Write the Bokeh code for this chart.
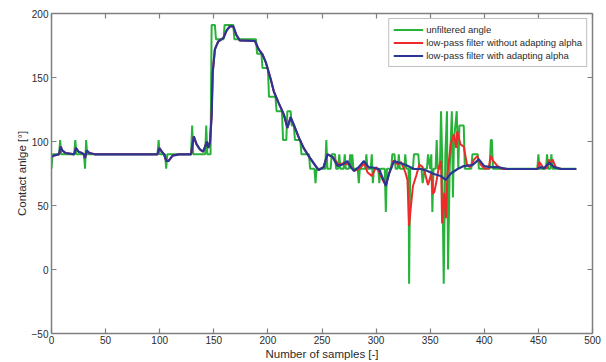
from bokeh.plotting import figure
from bokeh.models import LinearAxis, FixedTicker, Range1d, CustomLabelingPolicy
from bokeh.embed import file_html
from bokeh.resources import INLINE

# ---------------- data ----------------
x_ticks = [0, 50, 100, 150, 200, 250, 300, 350, 400, 450, 500]
y_ticks = [-50, 0, 50, 100, 150, 200]

series_names = ["unfiltered angle",
                "low-pass filter without adapting alpha",
                "low-pass filter with adapting alpha"]

# unfiltered angle (green) - vertices of the sampled signal
green_x = [0, 1, 7, 8, 9, 21, 22, 23, 30, 31, 32, 33, 98, 99, 100, 105, 106, 107,
           129, 130, 131, 142, 143, 144, 147, 148, 151, 152, 159, 160, 168, 169,
           189, 190, 194, 195, 200, 201, 207, 208, 213, 214, 217, 218, 221, 222,
           224, 225, 230, 231, 238, 239, 243, 244, 245, 253, 254, 255, 258, 259,
           262, 263, 265, 266, 267, 270, 271, 272, 275, 276, 277, 278, 279, 283,
           284, 285, 290, 291, 292, 295, 296, 297, 298, 302, 303, 304, 308, 309,
           310, 314, 315, 317, 318, 320, 321, 322, 326, 327, 328, 330, 330.5,
           331.5, 334, 335, 339, 340, 342, 343, 345, 347, 348, 350, 351, 352, 353,
           355, 356, 357, 359, 360, 361, 362.5, 364, 365.5, 366.5, 368, 370, 371,
           372, 374.5, 376, 377, 381, 382, 388, 389, 394, 395, 405, 406, 407,
           408, 449, 450, 451, 457, 458, 459, 461, 462, 463, 485]
green_y = [78.7, 90, 90, 101.2, 90, 90, 101.2, 90, 90, 78.7, 101.2, 90, 90, 101.2,
           90, 90, 78.7, 90,
           90, 112.5, 90, 90, 112.5, 90, 90, 191.1, 191.1, 179.9, 179.9, 191.1,
           191.1, 179.9,
           179.9, 168.6, 168.6, 157.4, 157.4, 134.9, 134.9, 123.7, 123.7, 101.2,
           101.2, 123.7, 123.7, 112.5,
           112.5, 101.2, 101.2, 90, 90, 78.7, 78.7, 67.5, 78.7, 78.7, 101.2, 78.7,
           78.7, 90,
           90, 78.7, 78.7, 90, 78.7, 78.7, 90, 78.7, 78.7, 90, 78.7, 90, 78.7, 78.7,
           67.5, 78.7, 78.7, 90, 78.7, 78.7, 90, 67.5, 78.7, 78.7, 67.5, 78.7,
           78.7, 45,
           78.7, 78.7, 90, 90, 78.7, 78.7, 90, 78.7, 78.7, 90, 78.7, 78.7, -11.2,
           78.7, 78.7, 90, 90, 78.7, 78.7, 67.5, 78.7, 78.7, 90, 78.7, 90, 45,
           78.7,
           78.7, 101.2, 78.7, 78.7, 123.7, 90, -11.2, 90, 123.7, 0, 78.7, 123.7,
           56.2,
           101.2, 123.7, 78.7, 112.5, 112.5, 78.7, 78.7, 90, 90, 78.7, 78.7,
           101.2, 101.2,
           78.7, 78.7, 90, 78.7, 78.7, 90, 78.7, 78.7, 90, 78.7, 78.7]

# low-pass filter with adapting alpha (blue)
blue_x = [0, 2, 7, 8.5, 10, 13, 21, 22.5, 25, 28, 30, 31, 32.5, 35, 40, 98, 99.5,
          102, 104, 106, 108, 112, 118, 129, 130, 131.5, 134, 137, 140, 142, 143.5,
          145, 146.5, 148, 149, 151, 154, 159, 162, 165, 168, 171, 174, 188, 191.5,
          195, 198, 202.5, 205.5, 210, 214.8, 218, 221, 224, 228.6, 233, 237.7,
          242, 246.8, 251.5, 255, 259.7, 264.3, 268.9, 273.5, 276.6, 279.6, 284,
          288.7, 293, 298, 302.6, 306, 309, 312, 316.5, 322.9, 329, 335, 341.4,
          347.5, 353.4, 359.8, 364.5, 369, 375.3, 381, 389, 395, 400, 406, 412,
          421.5, 449, 452, 455, 460, 464.5, 471, 485]
blue_y = [88, 89, 90, 96, 93, 91, 90, 95, 92, 91, 90, 87, 93, 91, 90, 90, 95,
          92, 90, 85, 84.7, 89, 90, 90, 96, 104, 98, 94, 92, 96, 100,
          95, 100, 120, 154, 172, 178, 181, 187, 190, 190, 183, 179, 178.5, 172,
          168, 162, 149, 139, 130, 121, 110.6, 119, 113, 103, 95, 88.6,
          83.4, 77.7, 80, 90, 88, 81, 82, 84.7, 80, 77, 80,
          84.7, 80, 79.5, 78.5, 71.7, 65.3, 75, 84.7, 83, 81, 78.5, 78.5,
          77, 74.6, 73, 70, 75, 78.5, 80.8, 81.5, 86, 80.8, 80, 80,
          78.5, 78.5, 80, 79, 83.4, 80, 78.5, 78.5]

# low-pass filter without adapting alpha (red)
red_x = [0, 2, 7, 8.5, 10, 13, 21, 22.5, 25, 28, 30, 31, 32.5, 35, 40, 98, 99.5,
         102, 104, 106, 108, 112, 118, 129, 130, 131.5, 134, 137, 140, 142, 143.5,
         145, 146.5, 148, 149, 151, 154, 159, 162, 165, 168, 171, 174, 188, 191.5,
         195, 198, 202.5, 205.5, 210, 214.8, 218, 221, 224, 228.6, 233, 237.7,
         242, 246.8, 251.5, 255, 259.7, 262, 265, 270, 275, 280, 285, 289, 292,
         296, 300, 303, 306, 309, 312, 316, 320, 323, 327, 329, 330.5, 332, 334,
         337, 340, 343, 345, 348, 351, 352.5, 354, 356, 358, 360, 361, 363,
         364.5, 366, 369, 372, 374, 375, 378, 381, 384, 387, 390.6, 393.5, 396.6,
         400, 404, 406, 408, 412, 416.5, 449, 451, 454, 458, 459.5, 461, 463,
         466, 471, 485]
red_y = [88, 89, 90, 96, 93, 91, 90, 95, 92, 91, 90, 87, 93, 91, 90, 90, 95,
         92, 90, 85, 84.7, 89, 90, 90, 96, 104, 98, 94, 92, 96, 100,
         95, 100, 120, 154, 172, 178, 181, 187, 190, 190, 183, 179, 178.5, 172,
         168, 162, 149, 139, 130, 121, 110.6, 119, 113, 103, 95, 88.6,
         83.4, 77.7, 80, 90, 88, 86, 82, 83, 82, 77, 79, 83, 76,
         73, 80, 76, 70, 66, 75, 85, 82, 84, 76, 70, 34, 48, 65,
         73, 82, 80, 76, 66, 75, 59, 61, 70, 80, 85, 36, 60,
         40, 75, 98, 105.6, 95, 108, 97.7, 96, 82, 80, 86, 88.6, 82,
         79, 79, 89, 85, 81, 78.5, 78.5, 84, 80, 79, 86, 82, 86,
         80, 78.5, 78.5]

# ---------------- styling ----------------
GREEN = "#27b23a"
RED = "#ee2a2a"
BLUE = "#2b3593"
AXIS = "#7f7f7f"
TEXT = "#2b2b2b"
FONT = "Liberation Sans"

p = figure(width=606, height=362,
           x_range=Range1d(0, 500), y_range=Range1d(-50, 200),
           output_backend="svg", toolbar_location=None,
           min_border_left=51, min_border_right=14, min_border_top=13,
           min_border_bottom=28,
           x_axis_label="Number of samples [-]",
           y_axis_label="Contact anlge [°]")

p.xgrid.visible = False
p.ygrid.visible = False
p.outline_line_color = AXIS
p.background_fill_color = "white"
p.border_fill_color = "white"

p.line(green_x, green_y, color=GREEN, line_width=2, legend_label=series_names[0])
p.line(red_x, red_y, color=RED, line_width=2, legend_label=series_names[1])
p.line(blue_x, blue_y, color=BLUE, line_width=2.2, legend_label=series_names[2])

def style_axis(ax, ticks, labels=True):
    ax.ticker = FixedTicker(ticks=ticks)
    ax.axis_line_color = AXIS
    ax.axis_line_width = 1.5
    ax.major_tick_line_color = AXIS
    ax.major_tick_line_width = 1.2
    ax.major_tick_in = 5
    ax.major_tick_out = 0
    ax.minor_tick_line_color = None
    if labels:
        ax.major_label_text_font = FONT
        ax.major_label_text_font_size = "10px"
        ax.major_label_text_color = TEXT
        ax.axis_label_text_font = FONT
        ax.axis_label_text_font_size = "11.5px"
        ax.axis_label_text_font_style = "normal"
        ax.axis_label_text_color = TEXT
    else:
        # tick marks only, no tick labels (box axes as in the reference)
        ax.major_label_policy = CustomLabelingPolicy(code="return []")
        ax.major_label_text_font_size = "1px"
        ax.major_label_standoff = 0

style_axis(p.xaxis[0], x_ticks)
style_axis(p.yaxis[0], y_ticks)
p.xaxis[0].major_label_standoff = 2
p.xaxis[0].axis_label_standoff = 1
p.yaxis[0].major_label_standoff = 3
p.yaxis[0].axis_label_standoff = 1

top = LinearAxis()
right = LinearAxis()
style_axis(top, x_ticks, labels=False)
style_axis(right, y_ticks, labels=False)
p.add_layout(top, "above")
p.add_layout(right, "right")

lg = p.legend[0]
lg.location = "top_right"
lg.margin = 5
lg.padding = 4
lg.spacing = 0
lg.glyph_width = 30
lg.glyph_height = 13
lg.label_height = 13
lg.label_standoff = 3
lg.label_text_font = FONT
lg.label_text_font_size = "9.5px"
lg.label_text_color = TEXT
lg.border_line_color = AXIS
lg.border_line_width = 1
lg.background_fill_alpha = 1.0

open("out.html", "w").write(file_html(p, INLINE))
